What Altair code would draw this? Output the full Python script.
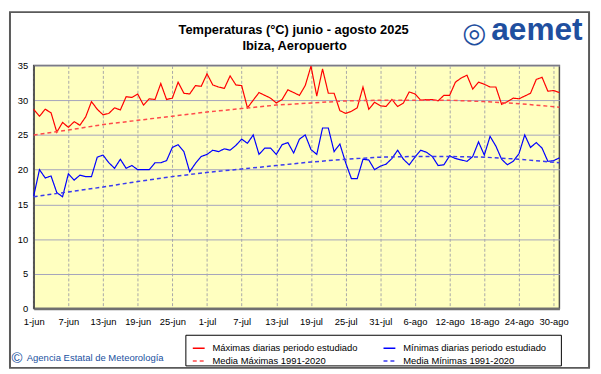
import altair as alt
import pandas as pd

# ---------------- data ----------------
days = list(range(92))  # 0 = 1-jun ... 91 = 31-ago

tmax = [28.7, 27.7, 28.7, 28.2, 25.4, 26.8, 26.1, 26.9, 26.4, 27.6,
        29.8, 28.7, 27.9, 28.1, 28.9, 28.6, 30.5, 30.4, 30.9, 29.3,
        30.2, 30.1, 32.4, 30.1, 30.3, 32.6, 31.0, 30.9, 32.1, 32.0,
        33.8, 32.2, 31.9, 31.7, 33.5, 32.2, 32.1, 28.9, 30.0, 31.1,
        30.7, 30.3, 29.6, 30.1, 31.5, 31.1, 30.7, 32.1, 34.9, 30.6,
        34.5, 31.0, 31.0, 28.5, 28.1, 28.4, 28.9, 31.9, 28.7, 29.7,
        29.2, 29.1, 30.1, 29.1, 29.6, 31.2, 30.9, 30.0, 30.1, 30.1,
        29.9, 30.7, 30.7, 32.6, 33.2, 33.6, 31.6, 32.6, 32.3, 31.9,
        31.9, 29.4, 29.8, 30.3, 30.2, 30.6, 31.0, 33.0, 33.3, 31.3,
        31.4, 31.1]

tmin = [16.2, 20.0, 18.8, 19.1, 16.7, 16.1, 19.4, 18.5, 19.2, 19.0,
        19.0, 21.8, 22.1, 21.0, 20.2, 21.5, 20.2, 20.6, 20.0, 20.0,
        20.0, 21.0, 21.0, 21.3, 23.2, 23.6, 22.6, 19.7, 20.9, 21.9,
        22.2, 22.8, 22.6, 23.0, 22.8, 23.5, 24.4, 23.8, 25.0, 22.2,
        23.1, 23.1, 22.2, 23.6, 23.9, 22.4, 24.4, 25.0, 22.9, 22.2,
        26.0, 26.0, 22.6, 23.7, 21.0, 18.7, 18.7, 21.5, 21.4, 20.0,
        20.5, 20.8, 21.6, 22.8, 21.5, 20.7, 21.8, 22.8, 22.5, 21.9,
        20.6, 20.7, 22.0, 21.6, 21.4, 21.2, 21.9, 24.0, 22.1, 24.8,
        23.4, 21.5, 20.7, 21.2, 22.3, 25.0, 23.2, 23.9, 23.1, 21.2,
        21.3, 21.7]

norm_days = [0, 6, 12, 18, 24, 30, 36, 42, 48, 54, 60, 66, 72, 78, 84, 91]
norm_max = [25.0, 25.7, 26.5, 27.1, 27.7, 28.3, 28.8, 29.3, 29.6, 29.9,
            30.0, 30.0, 30.0, 29.8, 29.5, 29.0]
norm_min = [16.1, 16.8, 17.5, 18.3, 19.0, 19.6, 20.1, 20.6, 21.1, 21.5,
            21.8, 21.9, 21.9, 21.8, 21.5, 21.0]

tick_days = [0, 6, 12, 18, 24, 30, 36, 42, 48, 54, 60, 66, 72, 78, 84, 90]
tick_labels = ['1-jun', '7-jun', '13-jun', '19-jun', '25-jun', '1-jul', '7-jul',
               '13-jul', '19-jul', '25-jul', '31-jul', '6-ago', '12-ago',
               '18-ago', '24-ago', '30-ago']
y_ticks = [0, 5, 10, 15, 20, 25, 30, 35]

# legend order: column 1 = maxima, column 2 = minima
series = ['Máximas diarias periodo estudiado', 'Media Máximas 1991-2020',
          'Mínimas diarias periodo estudiado', 'Media Mínimas 1991-2020']
series_colors = ['#FF0000', '#FF4A4A', '#0000FF', '#3A3AF0']
series_dash = [[1, 0], [4, 3], [1, 0], [4, 3]]

title_lines = ['Temperaturas (°C) junio - agosto 2025', 'Ibiza, Aeropuerto']
logo_text = 'aemet'
logo_icon = '◎'
credit_symbol = '©'
credit_text = 'Agencia Estatal de Meteorología'

# ---------------- tables ----------------
daily = pd.DataFrame({
    'day': days + days,
    'temp': tmax + tmin,
    'serie': [series[0]] * len(days) + [series[2]] * len(days),
})
normals = pd.DataFrame({
    'day': norm_days + norm_days,
    'temp': norm_max + norm_min,
    'serie': [series[1]] * len(norm_days) + [series[3]] * len(norm_days),
})

FONT = 'Liberation Sans'
W, H = 532, 246

label_expr = ''.join(
    f"datum.value == {d} ? '{l}' : " for d, l in zip(tick_days, tick_labels)
) + "''"

x_enc = alt.X('day:Q',
              scale=alt.Scale(domain=[0, 91], nice=False, zero=False),
              axis=alt.Axis(values=tick_days, labelExpr=label_expr, title=None,
                            grid=True, gridDash=[3, 2], gridColor='#A8A8A8',
                            ticks=False, labelPadding=8, labelFlush=False,
                            labelOverlap=False, domainColor='#707070',
                            domainWidth=2.5, labelFont=FONT, labelFontSize=9.5,
                            labelColor='#000000'))
y_enc = alt.Y('temp:Q',
              scale=alt.Scale(domain=[0, 35], nice=False, zero=True),
              axis=alt.Axis(values=y_ticks, title=None, grid=True,
                            gridColor='#A4A4BC', ticks=False, labelPadding=6,
                            domainColor='#505050', domainWidth=1.5,
                            labelFont=FONT, labelFontSize=9.5,
                            labelColor='#000000'))

leg = alt.Legend(orient='none', legendX=154, legendY=273, columns=2,
                 columnPadding=23, rowPadding=1, padding=6,
                 symbolType='stroke', symbolSize=144, symbolStrokeWidth=1.5,
                 labelFont=FONT, labelFontSize=9.5, labelColor='#000000',
                 labelOffset=7, labelLimit=400)

color_enc = alt.Color('serie:N', scale=alt.Scale(domain=series, range=series_colors),
                      legend=leg, title=None)
dash_enc = alt.StrokeDash('serie:N',
                          scale=alt.Scale(domain=series, range=series_dash),
                          legend=leg, title=None)

obs = alt.Chart(daily).mark_line(strokeWidth=1.2).encode(
    x=x_enc, y=y_enc, color=color_enc, strokeDash=dash_enc, detail='serie:N')
norm = alt.Chart(normals).mark_line(strokeWidth=1.5).encode(
    x=x_enc, y=y_enc, color=color_enc, strokeDash=dash_enc, detail='serie:N')

one = pd.DataFrame({'a': [0]})
frame = alt.Chart(one).mark_rect(fill='#FFFFFF', fillOpacity=0, stroke='#5A5A5A',
                                 strokeOpacity=1, strokeWidth=2).encode(
    x=alt.value(-24), x2=alt.value(562), y=alt.value(-54), y2=alt.value(306))
legend_box = alt.Chart(one).mark_rect(fill='#FFFFFF', stroke='#000000', strokeWidth=1).encode(
    x=alt.value(154), x2=alt.value(534), y=alt.value(273), y2=alt.value(304))


def txt(text, x, y, **kw):
    return alt.Chart(pd.DataFrame({'t': [text]})).mark_text(**kw).encode(
        text='t:N', x=alt.value(x), y=alt.value(y))


t1 = txt(title_lines[0], 263, -36, font=FONT, fontSize=13, fontWeight='bold',
         color='#000000', align='center', baseline='middle')
t2 = txt(title_lines[1], 264, -20, font=FONT, fontSize=13, fontWeight='bold',
         color='#000000', align='center', baseline='middle')
logo = txt(logo_text, 463, -26, font=FONT, fontSize=32, fontWeight='bold',
           color='#1F4F9F', align='left', baseline='alphabetic')
icon = txt(logo_icon, 446, -32, font='DejaVu Sans', fontSize=28, fontWeight='bold',
           color='#1F4F9F', align='center', baseline='middle')
c1 = txt(credit_symbol, -17, 296, font=FONT, fontSize=15, color='#2050A0',
         align='center', baseline='middle')
c2 = txt(credit_text, -7, 296, font=FONT, fontSize=9.6, color='#2050A0',
         align='left', baseline='middle')

chart = alt.layer(frame, legend_box, obs, norm, t1, t2, logo, icon, c1, c2).properties(
    width=W, height=H,
    padding={'left': 26, 'top': 56, 'right': 34, 'bottom': 62},
    autosize=alt.AutoSizeParams(type='none'),
    background='#FFFFFF',
).configure_view(fill='#FFFFC0', stroke='#505050', strokeWidth=1.5)

chart.save('out.html', embed_options={'renderer': 'svg', 'actions': False})
